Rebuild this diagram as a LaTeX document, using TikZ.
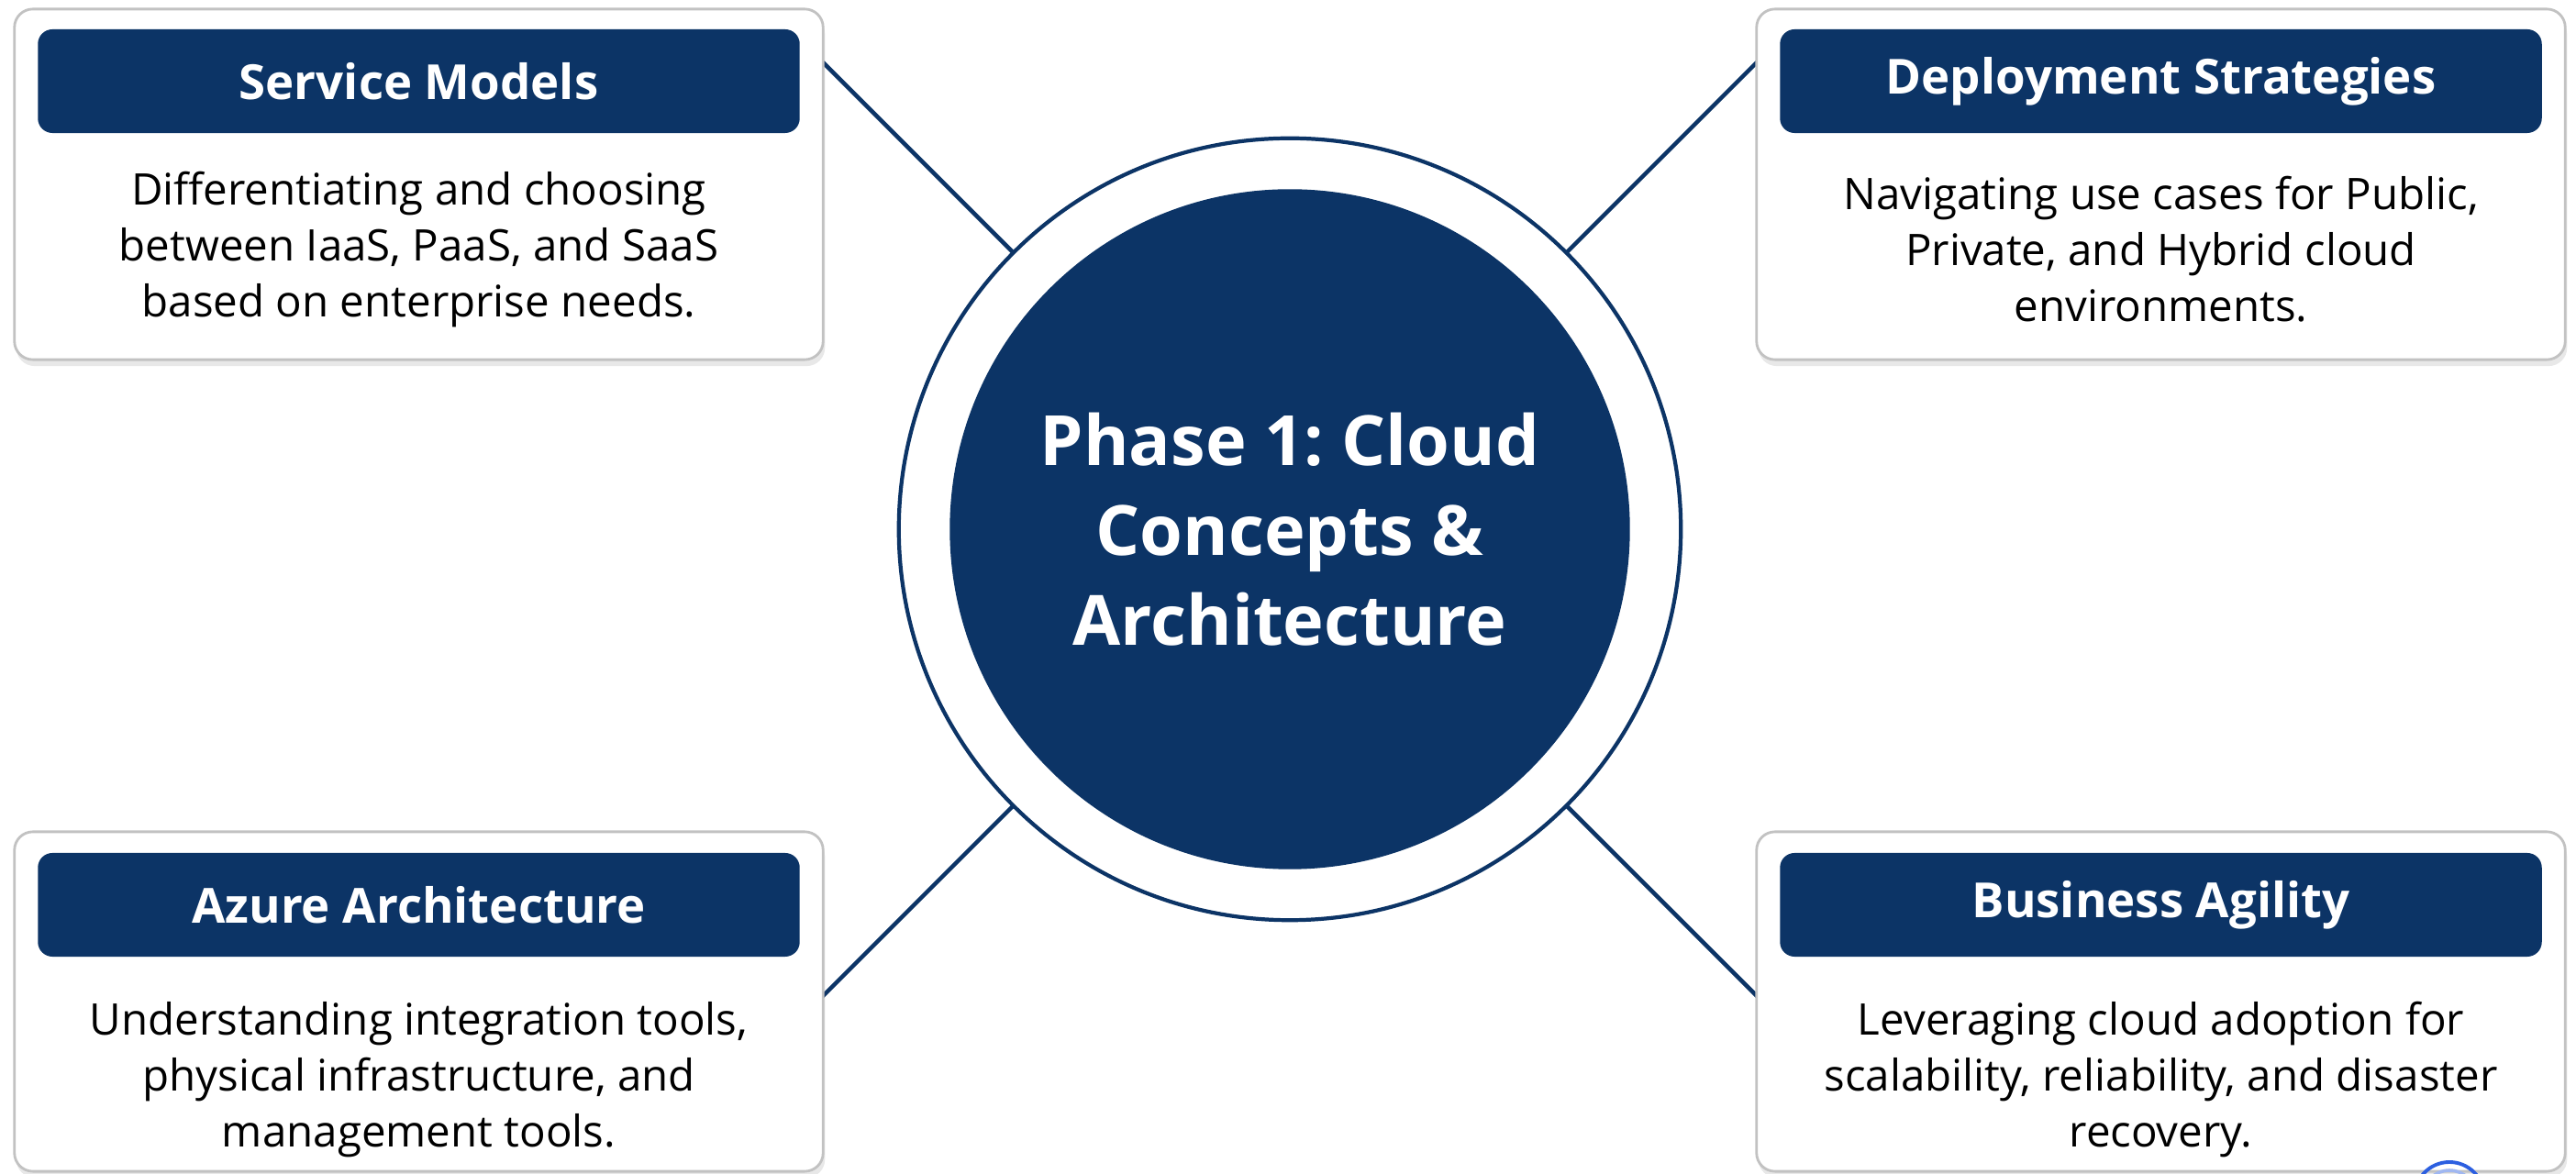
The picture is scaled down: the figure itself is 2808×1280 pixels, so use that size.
\documentclass[tikz,border=0pt]{standalone}
\usepackage{fontspec}
\setmainfont{Open Sans}
\usepackage{xcolor}
\usetikzlibrary{shadows,calc}
\definecolor{navy}{HTML}{0C3466}
\definecolor{cardline}{HTML}{C2C2C2}
\definecolor{markblue}{HTML}{2C5FE0}
\frenchspacing

\begin{document}
\begin{tikzpicture}[line cap=round,line join=round,x=0.01cm,y=-0.01cm,
  card/.style={draw=cardline,line width=0.8pt,fill=white,rounded corners=0.2cm,minimum width=8.81cm,minimum height=3.82cm,drop shadow={opacity=0.18,shadow xshift=0.02cm,shadow yshift=-0.07cm}},
  cardhead/.style={fill=navy,rounded corners=0.16cm,minimum width=8.30cm,minimum height=1.13cm,inner sep=0pt,text=white,font=\fontsize{15}{18}\selectfont\bfseries},
  cardtext/.style={align=center,text=black,inner sep=0pt,font=\fontsize{13.5}{17.35}\selectfont},
  link/.style={draw=navy,line width=1.3pt}]
\useasboundingbox (0,0) rectangle (2808,1280);
\fill[white] (0,0) rectangle (2808,1280);

% hub
\node[circle,draw=navy,line width=1.2pt,minimum size=8.52cm,inner sep=0pt] (ring) at (1406,577) {};
\node[circle,fill=navy,minimum size=7.41cm,inner sep=0pt,text=white,align=center,font=\fontsize{21.5}{27.8}\selectfont\bfseries] (core) at (ring.center) {Phase 1: Cloud\\Concepts \&\\Architecture};

% free ends of the spokes
\coordinate (smend) at (897,68);
\coordinate (dsend) at (1915,68);
\coordinate (aaend) at (897,1086);
\coordinate (baend) at (1915,1086);
\draw[link] (ring.135) -- (smend);
\draw[link] (ring.45) -- (dsend);
\draw[link] (ring.225) -- (aaend);
\draw[link] (ring.315) -- (baend);

% cards
\node[card] (sm) at (456.5,201) {};
\node[cardhead] (smhead) at (456.5,88.5) {Service Models};
\node[cardtext] (smtext) at (456.5,272) {Differentiating and choosing\\between IaaS, PaaS, and SaaS\\based on enterprise needs.};

\node[card] (ds) at (2355.5,201) {};
\node[cardhead] (dshead) at (2355.5,88.5) {Deployment Strategies};
\node[cardtext] (dstext) at (2355.5,272) {Navigating use cases for Public,\\Private, and Hybrid cloud\\environments.};

\node[card,minimum height=3.70cm] (aa) at (456.5,1092) {};
\node[cardhead] (aahead) at (456.5,986.5) {Azure Architecture};
\node[cardtext] (aatext) at (456.5,1177) {Understanding integration tools,\\physical infrastructure, and\\management tools.};

\node[card,minimum height=3.70cm] (ba) at (2355.5,1092) {};
\node[cardhead] (bahead) at (2355.5,986.5) {Business Agility};
\node[cardtext] (batext) at (2355.5,1177) {Leveraging cloud adoption for\\scalability, reliability, and disaster\\recovery.};

% corner mark
\draw[markblue,line width=1.1pt] (2670,1305) circle (38);
\draw[markblue!45,line width=1pt] (2670,1305) circle (29);
\end{tikzpicture}
\end{document}
